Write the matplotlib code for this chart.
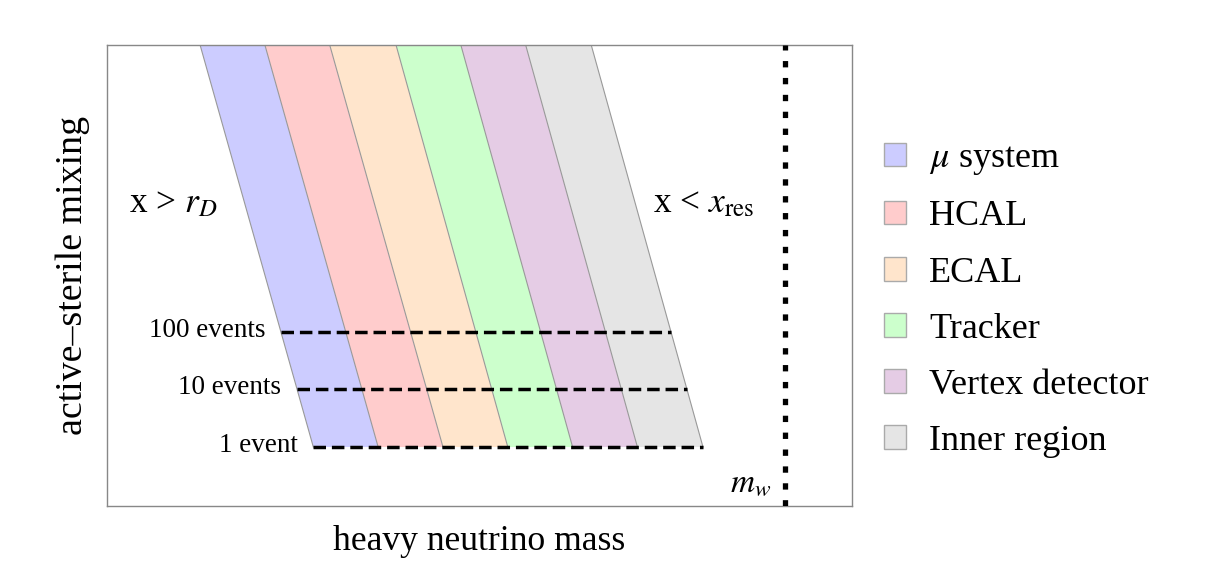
import numpy as np
import matplotlib.pyplot as plt
from matplotlib.patches import Polygon, Patch

plt.rcParams['font.family'] = ['Liberation Serif', 'DejaVu Serif']
plt.rcParams['mathtext.fontset'] = 'stix'

#%% data (axes units, 0..1)
regions = ['$\\mu$ system', 'HCAL', 'ECAL', 'Tracker', 'Vertex detector', 'Inner region']
region_colors = ['#ccccff', '#ffcccc', '#ffe5cc', '#ccffcc', '#e5cce5', '#e5e5e5']

# band edges along the top of the plot, and along the bottom (1 event level)
edges_top = [0.125, 0.212, 0.299, 0.388, 0.475, 0.562, 0.650]
edges_bottom = [0.277, 0.364, 0.451, 0.538, 0.625, 0.712, 0.800]
y_top = 1.0
y_bottom = 0.128

event_labels = ['100 events', '10 events', '1 event']
event_levels = [0.377, 0.254, 0.128]

m_w = 0.910


def edge_x(i, y):
    # x position of band edge i at height y
    t = (y_top - y) / (y_top - y_bottom)
    return edges_top[i] + t * (edges_bottom[i] - edges_top[i])


#%% figure
fig = plt.figure(figsize=(12.14, 5.76), dpi=100)
ax = fig.add_axes([0.0881, 0.1215, 0.6137, 0.8004])
ax.set_xlim(0, 1)
ax.set_ylim(0, 1)

for i, col in enumerate(region_colors):
    pts = [(edges_top[i], y_top), (edges_top[i + 1], y_top),
           (edges_bottom[i + 1], y_bottom), (edges_bottom[i], y_bottom)]
    ax.add_patch(Polygon(pts, closed=True, facecolor=col, edgecolor='none', zorder=1))

# band edges as thin gray lines
for i in range(len(edges_top)):
    ax.plot([edges_top[i], edges_bottom[i]], [y_top, y_bottom],
            color='#999999', lw=0.8, zorder=2)

# event count lines
for lab, lev in zip(event_labels, event_levels):
    x0 = edge_x(0, lev)
    x1 = edge_x(len(edges_top) - 1, lev)
    ax.plot([x0, x1], [lev, lev], color='black', lw=2.5,
            dashes=(3.6, 1.7), zorder=3)
    ax.text(x0 - 0.021, lev + 0.003, lab, ha='right', va='center', fontsize=19.5)

# m_W line
ax.plot([m_w, m_w], [0, 1], color='black', lw=3.8, dashes=(1.2, 2.0),
        solid_capstyle='butt', zorder=3)
ax.text(m_w - 0.018, 0.05, '$m_w$', ha='right', va='center', fontsize=24)

ax.text(0.030, 0.655, 'x > $r_D$', ha='left', va='center', fontsize=25.5)
ax.text(0.733, 0.655, 'x < $x_{\\rm res}$', ha='left', va='center', fontsize=25.5)

ax.set_xticks([])
ax.set_yticks([])
for sp in ax.spines.values():
    sp.set_color('#888888')
    sp.set_linewidth(1.0)

ax.set_xlabel('heavy neutrino mass', fontsize=25.7, labelpad=14)
ax.set_ylabel('active\u2013sterile mixing', fontsize=27.3, labelpad=12)

handles = [Patch(facecolor=c, edgecolor='#aaaaaa', lw=1.0, label=r)
           for r, c in zip(regions, region_colors)]
fig.legend(handles=handles, loc='center left', bbox_to_anchor=(0.701, 0.479),
           frameon=False, fontsize=26, handlelength=0.62, handleheight=0.62,
           handletextpad=0.65, labelspacing=0.64)

fig.savefig('out.png', dpi=100)
